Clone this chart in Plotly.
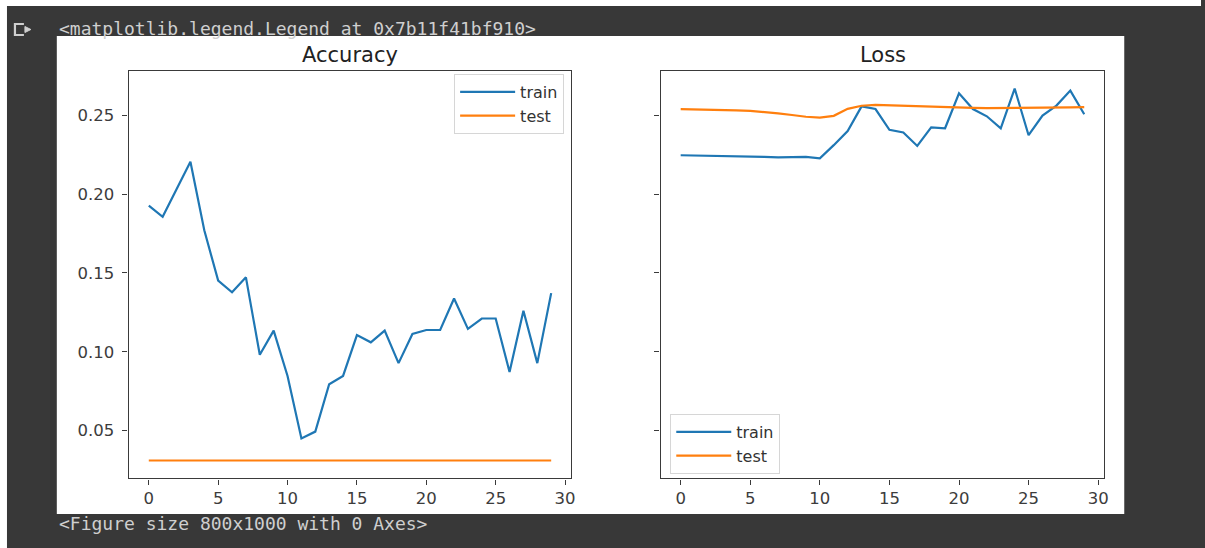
import plotly.graph_objects as go

W, H = 1205, 548

# ---- training history -------------------------------------------------
epochs = list(range(30))

acc_train = [0.1926, 0.1856, 0.2030, 0.2205, 0.1770, 0.1451, 0.1377, 0.1472,
             0.0981, 0.1134, 0.0847, 0.0451, 0.0494, 0.0794, 0.0847, 0.1106,
             0.1060, 0.1134, 0.0928, 0.1113, 0.1138, 0.1138, 0.1338, 0.1145,
             0.1211, 0.1211, 0.0872, 0.1260, 0.0928, 0.1372]
acc_test = [0.0311, 0.0311, 0.0311, 0.0311, 0.0311, 0.0311, 0.0311, 0.0311,
            0.0311, 0.0311, 0.0311, 0.0311, 0.0311, 0.0311, 0.0311, 0.0311,
            0.0311, 0.0311, 0.0311, 0.0311, 0.0311, 0.0311, 0.0311, 0.0311,
            0.0311, 0.0311, 0.0311, 0.0311, 0.0311, 0.0311]

loss_train = [0.2246, 0.2245, 0.2244, 0.2242, 0.2240, 0.2238, 0.2236, 0.2233,
              0.2236, 0.2236, 0.2227, 0.2310, 0.2400, 0.2556, 0.2539, 0.2407,
              0.2390, 0.2305, 0.2423, 0.2417, 0.2639, 0.2539, 0.2493, 0.2416,
              0.2669, 0.2373, 0.2498, 0.2561, 0.2656, 0.2506]
loss_test = [0.2538, 0.2537, 0.2536, 0.2534, 0.2531, 0.2527, 0.2521, 0.2512,
             0.2501, 0.2490, 0.2484, 0.2496, 0.2540, 0.2560, 0.2565, 0.2562,
             0.2558, 0.2554, 0.2551, 0.2549, 0.2547, 0.2546, 0.2545, 0.2545,
             0.2545, 0.2545, 0.2546, 0.2547, 0.2549, 0.2551]

x_ticks = [0, 5, 10, 15, 20, 25, 30]
y_ticks = [0.05, 0.10, 0.15, 0.20, 0.25]
y_tick_text = ["0.05", "0.10", "0.15", "0.20", "0.25"]

BLUE = "#1f77b4"
ORANGE = "#ff7f0e"
DARK = "#383838"
NOTE = "#cfcfcf"
AX = "#3a3a3a"


def px(x):
    return x / W


def py(y):
    return 1 - y / H


fig = go.Figure()

fig.add_trace(go.Scatter(x=epochs, y=acc_train, mode="lines", name="train",
                         line=dict(color=BLUE, width=2.2),
                         xaxis="x", yaxis="y", legend="legend"))
fig.add_trace(go.Scatter(x=epochs, y=acc_test, mode="lines", name="test",
                         line=dict(color=ORANGE, width=2.2),
                         xaxis="x", yaxis="y", legend="legend"))
fig.add_trace(go.Scatter(x=epochs, y=loss_train, mode="lines", name="train",
                         line=dict(color=BLUE, width=2.2),
                         xaxis="x2", yaxis="y2", legend="legend2"))
fig.add_trace(go.Scatter(x=epochs, y=loss_test, mode="lines", name="test",
                         line=dict(color=ORANGE, width=2.2),
                         xaxis="x2", yaxis="y2", legend="legend2"))

tick_font = dict(family="DejaVu Sans", size=16.5, color="#3c3c3c")
x_common = dict(range=[-1.45, 30.45], tickvals=x_ticks, ticks="outside",
                ticklen=5, tickwidth=1.2, tickcolor=AX, showline=True,
                linecolor=AX, linewidth=1.4, mirror=True, showgrid=False,
                zeroline=False, tickfont=tick_font, ticklabelstandoff=0)
y_common = dict(range=[0.0198, 0.2782], tickvals=y_ticks, ticktext=y_tick_text,
                ticks="outside", ticklen=5, tickwidth=1.2, tickcolor=AX,
                showline=True, linecolor=AX, linewidth=1.4, mirror=True,
                showgrid=False, zeroline=False, tickfont=tick_font,
                ticklabelstandoff=5)

y_dom = [py(478.3), py(70.7)]

legend_common = dict(bgcolor="rgba(255,255,255,0.85)", bordercolor="#d6d6d6",
                     borderwidth=1, font=dict(family="DejaVu Sans", size=16,
                                              color="#333333"),
                     itemwidth=55, tracegroupgap=0)

fig.update_layout(
    width=W, height=H,
    margin=dict(l=0, r=0, t=0, b=0),
    paper_bgcolor=DARK,
    plot_bgcolor="white",
    showlegend=True,
    xaxis=dict(domain=[px(129.1), px(573.2)], anchor="y", **x_common),
    yaxis=dict(domain=y_dom, anchor="x", **y_common),
    xaxis2=dict(domain=[px(662.7), px(1108.1)], anchor="y2", **x_common),
    yaxis2=dict(domain=y_dom, anchor="x2", showticklabels=False, **y_common),
    legend=dict(x=px(566), y=py(74), xanchor="right", yanchor="top",
                **legend_common),
    legend2=dict(x=px(672.5), y=py(474), xanchor="left", yanchor="bottom",
                 **legend_common),
    shapes=[
        # white figure canvas
        dict(type="rect", xref="paper", yref="paper", layer="below",
             x0=px(57), x1=px(1128), y0=py(514), y1=py(36),
             fillcolor="white", line=dict(width=0)),
        # thin light edges of the notebook frame
        dict(type="rect", xref="paper", yref="paper", layer="below",
             x0=0, x1=1, y0=py(6), y1=1, fillcolor="white", line=dict(width=0)),
        dict(type="rect", xref="paper", yref="paper", layer="below",
             x0=0, x1=px(7), y0=0, y1=1, fillcolor="white", line=dict(width=0)),
        # output-cell icon
        dict(type="path", xref="paper", yref="paper",
             path=(f"M {px(24)},{py(24)} L {px(15)},{py(24)} L {px(15)},{py(35)} "
                   f"L {px(24)},{py(35)}"),
             line=dict(color=NOTE, width=2.2)),
        dict(type="path", xref="paper", yref="paper",
             path=(f"M {px(25)},{py(26.5)} L {px(31)},{py(29.5)} "
                   f"L {px(25)},{py(32.5)} Z"),
             fillcolor=NOTE, line=dict(color=NOTE, width=1)),
    ],
    annotations=[
        dict(text="Accuracy", xref="paper", yref="paper",
             x=px(351), y=py(55), xanchor="center", yanchor="middle",
             showarrow=False,
             font=dict(family="DejaVu Sans", size=21, color="#222222")),
        dict(text="Loss", xref="paper", yref="paper",
             x=px(886), y=py(55), xanchor="center", yanchor="middle",
             showarrow=False,
             font=dict(family="DejaVu Sans", size=21, color="#222222")),
        dict(text="&lt;matplotlib.legend.Legend at 0x7b11f41bf910&gt;",
             xref="paper", yref="paper", x=px(57), y=py(28),
             xanchor="left", yanchor="middle", showarrow=False,
             font=dict(family="DejaVu Sans Mono", size=18, color=NOTE)),
        dict(text="&lt;Figure size 800x1000 with 0 Axes&gt;",
             xref="paper", yref="paper", x=px(57), y=py(523),
             xanchor="left", yanchor="middle", showarrow=False,
             font=dict(family="DejaVu Sans Mono", size=18, color=NOTE)),
    ],
)

fig.write_html("out.html")
